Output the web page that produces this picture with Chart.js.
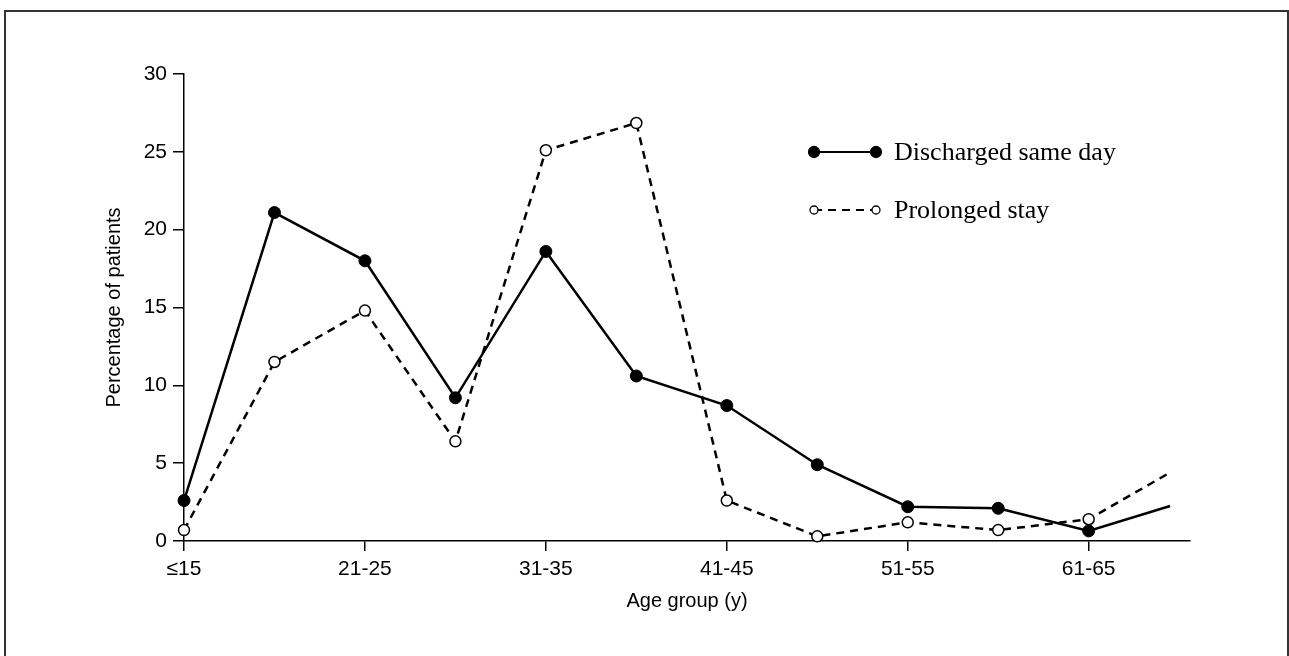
<!DOCTYPE html>
<html>
<head>
<meta charset="utf-8">
<script src="https://cdn.jsdelivr.net/npm/chart.js@4"></script>
<style>
  html, body { margin: 0; padding: 0; background: #fff; }
  #wrap { position: relative; width: 1289px; height: 656px; overflow: hidden; }
  #frame { position: absolute; left: 4px; top: 10px; width: 1281px; height: 700px; border: 2px solid #333; }
  canvas { position: absolute; left: 0; top: 0; }
</style>
</head>
<body>
<div id="wrap">
  <div id="frame"></div>
  <canvas id="chart" width="1289" height="656"></canvas>
</div>
<script>
// age groups, one per x index; the last segment runs past 61-65 without a marker
const ageGroups = ['≤15', '16-20', '21-25', '26-30', '31-35', '36-40', '41-45', '46-50', '51-55', '56-60', '61-65'];
const xPos = [0, 1, 2, 3, 4, 5, 6, 7, 8, 9, 10, 10.9];
const sameDay = [2.6, 21.1, 18.0, 9.2, 18.6, 10.6, 8.7, 4.9, 2.2, 2.1, 0.65, 2.25];
const prolonged = [0.7, 11.5, 14.8, 6.4, 25.1, 26.85, 2.6, 0.3, 1.2, 0.7, 1.4, 4.4];
const yTicks = [0, 5, 10, 15, 20, 25, 30];

const sans = '"Liberation Sans", Arial, sans-serif';
const toPoints = vals => vals.map((v, i) => ({ x: xPos[i], y: v }));
const lastNoMarker = (r) => ctx => ctx.dataIndex === xPos.length - 1 ? 0 : r;

// legend drawn by hand: a line with a marker at each end
const legendPlugin = {
    id: 'legendLines',
    afterDraw(chart) {
        const c = chart.ctx;
        const rows = [
            { y: 152, label: 'Discharged same day', dash: [], fill: '#000', r: 5.5 },
            { y: 210, label: 'Prolonged stay', dash: [8, 6], fill: '#fff', r: 4 }
        ];
        c.save();
        rows.forEach(r => {
            c.strokeStyle = '#000';
            c.lineWidth = 2.2;
            c.setLineDash(r.dash);
            c.beginPath();
            c.moveTo(814, r.y);
            c.lineTo(876, r.y);
            c.stroke();
            c.setLineDash([]);
            [814, 876].forEach(x => {
                c.beginPath();
                c.arc(x, r.y, r.r, 0, Math.PI * 2);
                c.fillStyle = r.fill;
                c.fill();
                c.lineWidth = 1.3;
                c.stroke();
            });
            c.fillStyle = '#000';
            c.font = '26px "Liberation Serif", "Times New Roman", serif';
            c.textBaseline = 'middle';
            c.fillText(r.label, 894, r.y + 1);
        });
        c.restore();
    }
};

const ctx = document.getElementById('chart');

new Chart(ctx, {
    type: 'line',
    data: {
        datasets: [{
            label: 'Discharged same day',
            data: toPoints(sameDay),
            borderColor: '#000',
            borderWidth: 2.5,
            pointRadius: lastNoMarker(6),
            pointBackgroundColor: '#000',
            pointBorderColor: '#000',
            pointBorderWidth: 1,
            tension: 0,
            clip: false
        }, {
            label: 'Prolonged stay',
            data: toPoints(prolonged),
            borderColor: '#000',
            borderWidth: 2.5,
            borderDash: [8, 6],
            pointRadius: lastNoMarker(5.5),
            pointBackgroundColor: '#fff',
            pointBorderColor: '#000',
            pointBorderWidth: 1.5,
            tension: 0,
            clip: false
        }]
    },
    options: {
        responsive: false,
        animation: false,
        events: [],
        layout: { padding: { left: 98, right: 99, top: 74, bottom: 39 } },
        plugins: { legend: { display: false }, tooltip: { enabled: false } },
        scales: {
            x: {
                type: 'linear',
                min: 0,
                max: 11.12,
                afterBuildTicks: scale => {
                    scale.ticks = ageGroups.map((g, i) => ({ value: i })).filter(t => t.value % 2 === 0);
                },
                afterFit: scale => { scale.height = 76; },
                ticks: {
                    callback: v => ageGroups[v],
                    color: '#000',
                    padding: 6,
                    maxRotation: 0,
                    autoSkip: false,
                    font: { family: sans, size: 21 }
                },
                grid: { drawOnChartArea: false, drawTicks: true, tickLength: 10, color: '#000', lineWidth: 1.5 },
                border: { display: true, color: '#000', width: 1.5 },
                title: {
                    display: true,
                    text: 'Age group (y)',
                    color: '#000',
                    font: { family: sans, size: 20 }
                }
            },
            y: {
                min: 0,
                max: 30,
                afterBuildTicks: scale => { scale.ticks = yTicks.map(v => ({ value: v })); },
                afterFit: scale => { scale.width = 86; },
                ticks: {
                    color: '#000',
                    padding: 6,
                    font: { family: sans, size: 21 }
                },
                grid: { drawOnChartArea: false, drawTicks: true, tickLength: 11, color: '#000', lineWidth: 1.5 },
                border: { display: true, color: '#000', width: 1.5 },
                title: {
                    display: true,
                    text: 'Percentage of patients',
                    color: '#000',
                    font: { family: sans, size: 20 }
                }
            }
        }
    },
    plugins: [legendPlugin]
});
</script>
</body>
</html>
